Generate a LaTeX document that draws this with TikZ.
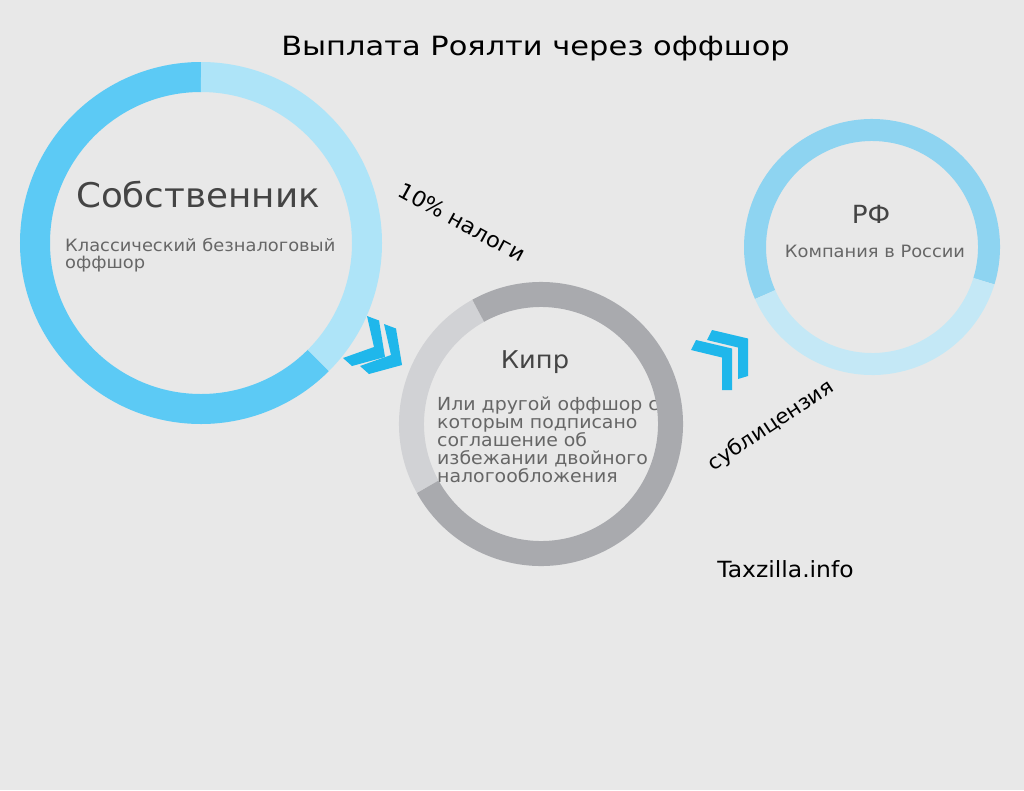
\documentclass[tikz,border=0pt]{standalone}
\usepackage{fontspec}
\usepackage{graphicx}
\setmainfont{DejaVu Sans}[FakeStretch=1.05]
\definecolor{bgc}{HTML}{E8E8E8}
\definecolor{bdark}{HTML}{5CCAF5}
\definecolor{blight}{HTML}{AEE4F8}
\definecolor{gdark}{HTML}{A9AAAE}
\definecolor{glight}{HTML}{D1D2D5}
\definecolor{rtop}{HTML}{8ED4F1}
\definecolor{rbot}{HTML}{C4E8F6}
\definecolor{chev}{HTML}{1FB7EB}
\definecolor{headc}{HTML}{444444}
\definecolor{bodyc}{HTML}{666666}
\begin{document}
\begin{tikzpicture}[x=1pt,y=-1pt,
  fs/.style={font=\fontsize{#1}{#1}\selectfont},
  headtxt/.style={inner sep=0pt, text=headc},
  bodytxt/.style={inner sep=0pt, text=bodyc, align=left},
  labtxt/.style={inner sep=0pt, text=black},
  chevshape/.style={fill=chev, draw=none}]
\useasboundingbox[fill=bgc] (0,0) rectangle (1024,790);
% centres
\coordinate (c1) at (201,243);
\coordinate (c2) at (541,424);
\coordinate (c3) at (872,247);
% title
\node[labtxt, fs=26.5, anchor=base] (title) at (535.5,55) {\scalebox{1.095}[1]{Выплата Роялти через оффшор}};
% texts
\node[headtxt, fs=34, anchor=base] (own) at (198,207) {Собственник};
\node[bodytxt, fs=17, anchor=base west, text width=300pt] (ownb) at (65,251.5) {\baselineskip=17pt Классический безналоговый\\оффшор};
\node[headtxt, fs=24.5, anchor=base] (cyp) at (535,368) {Кипр};
\node[bodytxt, fs=18, anchor=base west, text width=300pt] (cypb) at (437,410) {\baselineskip=18.3pt Или другой оффшор с\\которым подписано\\соглашение об\\избежании двойного\\налогообложения};
\node[headtxt, fs=25, anchor=base] (rf) at (871,223) {РФ};
\node[headtxt, fs=17, anchor=base, text=bodyc] (rfb) at (875,257.5) {Компания в России};
% rings
\draw[line width=30pt, bdark] (c1) ++(-90:166) arc[start angle=-90, end angle=-315, radius=166];
\draw[line width=30pt, blight] (c1) ++(45:166) arc[start angle=45, end angle=-90, radius=166];
\draw[line width=25pt, glight] (c2) ++(-119:129.5) arc[start angle=-119, end angle=-209, radius=129.5];
\draw[line width=25pt, gdark] (c2) ++(-209:129.5) arc[start angle=-209, end angle=-479, radius=129.5];
\draw[line width=22pt, rtop] (c3) ++(17:117) arc[start angle=17, end angle=-204, radius=117];
\draw[line width=22pt, rbot] (c3) ++(-204:117) arc[start angle=-204, end angle=-343, radius=117];
% chevrons 1
\fill[chevshape] (367,316) -- (379,320.5) -- (385,357) -- (352,366) -- (343,358) -- (374,347) -- cycle;
\fill[chevshape] (384,324) -- (396,328.5) -- (402,365) -- (369,374) -- (360,366) -- (391,355) -- cycle;
% chevrons 2
\fill[chevshape] (696,340) -- (732,348.5) -- (732,390) -- (722,390) -- (722,357.5) -- (691,350) -- cycle;
\fill[chevshape] (712,330) -- (748,338.5) -- (748,376) -- (738,379) -- (738,347.5) -- (707,340) -- cycle;
% labels
\node[labtxt, fs=21.5, rotate=-28.6] (tax) at (462,222) {10\% налоги};
\node[labtxt, fs=20.6, rotate=33.5] (sub) at (771,426) {сублицензия};
\node[labtxt, fs=22.3, anchor=base] (site) at (785.5,577) {Taxzilla.info};
\end{tikzpicture}
\end{document}
